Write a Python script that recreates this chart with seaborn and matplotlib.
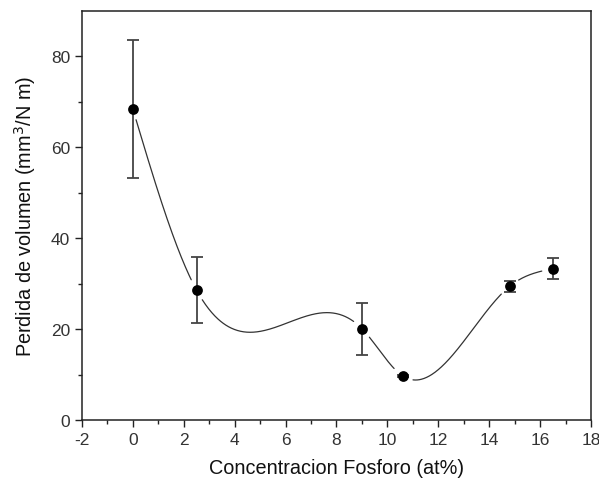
import numpy as np
import pandas as pd
import matplotlib
matplotlib.use("Agg")
import matplotlib.pyplot as plt
import seaborn as sns

# Data
concentracion = [0.0, 2.5, 9.0, 10.6, 14.8, 16.5]
perdida = [68.4, 28.6, 20.1, 9.7, 29.4, 33.3]
error = [15.2, 7.2, 5.7, 0.3, 1.2, 2.3]
x_ticks = [-2, 0, 2, 4, 6, 8, 10, 12, 14, 16, 18]
y_ticks = [0, 20, 40, 60, 80]


def natural_cubic_spline(x, y, xs):
    x = np.asarray(x, float)
    y = np.asarray(y, float)
    n = len(x)
    h = np.diff(x)
    A = np.zeros((n, n))
    b = np.zeros(n)
    A[0, 0] = 1
    A[-1, -1] = 1
    for i in range(1, n - 1):
        A[i, i - 1] = h[i - 1]
        A[i, i] = 2 * (h[i - 1] + h[i])
        A[i, i + 1] = h[i]
        b[i] = 3 * ((y[i + 1] - y[i]) / h[i] - (y[i] - y[i - 1]) / h[i - 1])
    c = np.linalg.solve(A, b)
    bb = np.zeros(n - 1)
    d = np.zeros(n - 1)
    for i in range(n - 1):
        bb[i] = (y[i + 1] - y[i]) / h[i] - h[i] * (2 * c[i] + c[i + 1]) / 3
        d[i] = (c[i + 1] - c[i]) / (3 * h[i])
    idx = np.clip(np.searchsorted(x, xs) - 1, 0, n - 2)
    dx = xs - x[idx]
    return y[idx] + bb[idx] * dx + c[idx] * dx ** 2 + d[idx] * dx ** 3


sns.set_theme(style="ticks")
plt.rcParams["font.family"] = ["Liberation Sans", "DejaVu Sans"]
plt.rcParams["axes.unicode_minus"] = False

fig = plt.figure(figsize=(5.99, 4.81), dpi=100)
ax = fig.add_axes([0.1369, 0.1247, 0.8497, 0.8503])
ax.set_xlim(-2, 18)
ax.set_ylim(0, 90)

xs = np.linspace(concentracion[0], concentracion[-1], 800)
ys = natural_cubic_spline(concentracion, perdida, xs)

# gaps in the curve near each marker (display space)
fig.canvas.draw()
disp_curve = ax.transData.transform(np.column_stack([xs, ys]))
disp_pts = ax.transData.transform(np.column_stack([concentracion, perdida]))
mask = np.zeros(len(xs), bool)
for p in disp_pts:
    mask |= np.hypot(*(disp_curve - p).T) < 11
ys_gap = ys.copy()
ys_gap[mask] = np.nan

ax.plot(xs, ys_gap, color="#333333", lw=0.9, zorder=2)

ax.errorbar(concentracion, perdida, yerr=error, fmt="none", ecolor="#444444",
            elinewidth=1.3, capsize=4.5, capthick=1.3, zorder=3)

df = pd.DataFrame({"x": concentracion, "y": perdida})
sns.scatterplot(data=df, x="x", y="y", ax=ax, color="black", s=60,
                edgecolor="black", linewidth=0, zorder=4)

ax.set_xticks(x_ticks)
ax.set_yticks(y_ticks)
ax.set_xticks(np.arange(-1, 18, 2), minor=True)
ax.set_yticks([10, 30, 50, 70], minor=True)
ax.tick_params(axis="both", which="major", direction="out", length=5, width=1,
               labelsize=12.5, colors="#222222", labelcolor="#333333")
ax.tick_params(axis="both", which="minor", direction="out", length=3, width=1,
               colors="#222222")
for s in ax.spines.values():
    s.set_color("#222222")
    s.set_linewidth(1.1)

ax.set_xlabel("Concentracion Fosforo (at%)", fontsize=14.3, color="#111111", labelpad=8)
ax.set_ylabel("Perdida de volumen (mm$^3$/N m)", fontsize=14.3, color="#111111", labelpad=9)

fig.savefig("out.png", dpi=100, facecolor="white")
